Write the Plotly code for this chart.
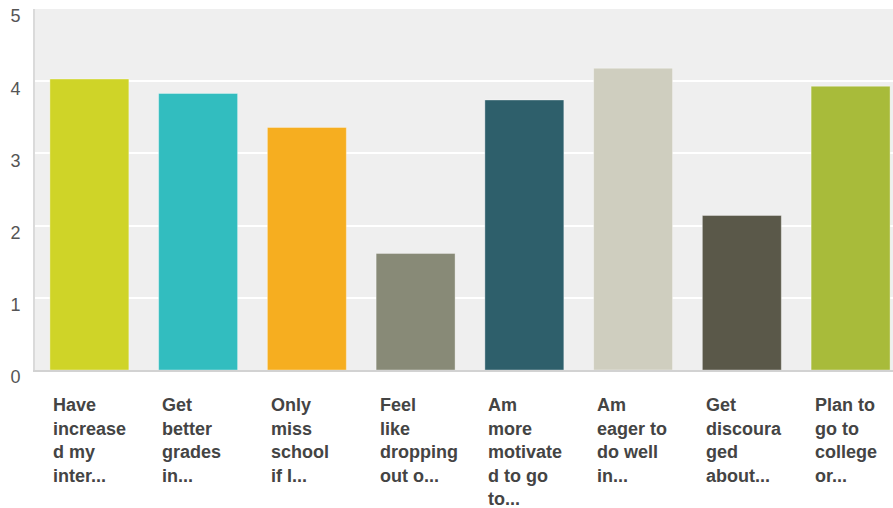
import plotly.graph_objects as go

categories = [
    "Have\nincrease\nd my\ninter...",
    "Get\nbetter\ngrades\nin...",
    "Only\nmiss\nschool\nif I...",
    "Feel\nlike\ndropping\nout o...",
    "Am\nmore\nmotivate\nd to go\nto...",
    "Am\neager to\ndo well\nin...",
    "Get\ndiscoura\nged\nabout...",
    "Plan to\ngo to\ncollege\nor...",
]
values = [4.03, 3.83, 3.36, 1.615, 3.74, 4.18, 2.14, 3.93]
colors = ["#cfd428", "#32bdbf", "#f6ae20", "#888a77", "#2e5f6b",
          "#cfcebf", "#5a5849", "#a8bb3a"]
y_ticks = [0, 1, 2, 3, 4, 5]

xs = list(range(len(categories)))

fig = go.Figure(go.Bar(
    x=xs, y=values,
    marker=dict(color=colors, line=dict(color="rgba(255,255,255,0.35)", width=1)),
    hoverinfo="skip",
))

annotations = []
for i, lab in enumerate(categories):
    for j, line in enumerate(lab.split("\n")):
        annotations.append(dict(
            x=i, y=0, xref="x", yref="y",
            text=line, showarrow=False,
            xanchor="left", yanchor="middle",
            xshift=-38, yshift=-(35 + 23.5 * j),
            font=dict(family="Liberation Sans, Arial, sans-serif", size=18,
                      color="#444444", weight="bold"),
        ))

fig.update_layout(
    width=893, height=508,
    margin=dict(l=35, r=0, t=9, b=138),
    paper_bgcolor="white",
    plot_bgcolor="#efefef",
    bargap=0.274,
    showlegend=False,
    annotations=annotations,
    xaxis=dict(
        range=[-0.5, 7.39], showticklabels=False, showgrid=False,
        zeroline=False, showline=True, linecolor="#d2d2d2", linewidth=2,
        fixedrange=True,
    ),
    yaxis=dict(
        range=[0, 5], tickvals=y_ticks, ticktext=[str(t) for t in y_ticks],
        showgrid=True, gridcolor="white", gridwidth=2,
        zeroline=False, showline=True, linecolor="#dadada", linewidth=2,
        tickfont=dict(family="Liberation Sans, Arial, sans-serif", size=18,
                      color="#555555"),
        ticklabelstandoff=9, ticklabelshift=7,
        fixedrange=True,
    ),
)

fig.write_html("out.html")
